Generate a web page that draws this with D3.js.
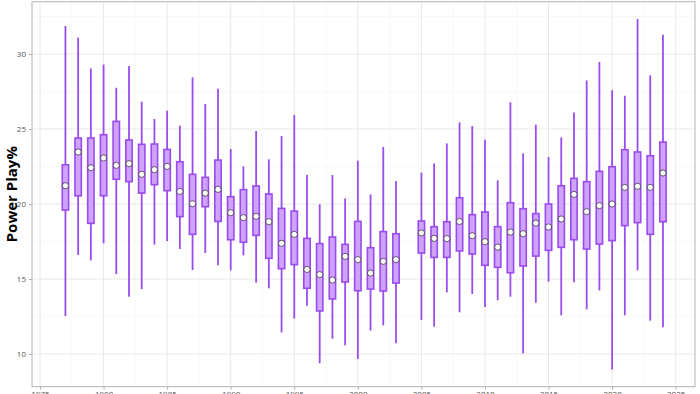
<!DOCTYPE html>
<html>
<head>
<meta charset="utf-8">
<script src="https://cdn.jsdelivr.net/npm/d3@7"></script>
<style>
  body { margin: 0; background: #fff; }
  svg { display: block; }
</style>
</head>
<body>
<svg class="boxchart" width="700" height="394"></svg>
<script>
var years = [1977,1978,1979,1980,1981,1982,1983,1984,1985,1986,1987,1988,1989,1990,1991,1992,1993,1994,1995,1996,1997,1998,1999,2000,2001,2002,2003,
             2005,2006,2007,2008,2009,2010,2011,2012,2013,2014,2015,2016,2017,2018,2019,2020,2021,2022,2023,2024];
var hiVals = [31.87,31.1,29.04,29.3,27.75,29.2,26.82,25.67,26.22,25.22,28.45,26.67,27.69,23.67,22.51,24.87,22.98,24.53,25.93,21.93,19.98,21.93,20.38,22.89,20.64,23.8,21.53,
              22.09,22.71,24.04,25.44,25.2,24.29,21.58,26.78,23.38,25.29,23.13,24.44,26.11,28.24,29.47,27.58,27.22,32.33,28.58,31.29];
var q3Vals = [22.62,24.4,24.4,24.62,25.51,24.27,23.98,24.0,23.64,22.82,21.98,21.78,22.93,20.49,20.96,21.2,20.67,19.71,19.53,17.71,17.36,17.8,17.31,18.84,17.09,18.16,18.02,
              18.87,18.49,18.82,20.42,19.29,19.47,18.49,20.09,19.69,19.36,20.0,21.22,21.71,21.49,22.18,22.49,23.62,23.47,23.22,24.13];
var meanVals = [21.22,23.47,22.42,23.07,22.58,22.69,21.98,22.29,22.51,20.84,20.02,20.73,20.98,19.42,19.09,19.18,18.82,17.38,17.98,15.64,15.29,14.93,16.51,16.29,15.4,16.18,16.29,
                18.07,17.71,17.69,18.84,17.89,17.49,17.13,18.13,18.02,18.73,18.47,19.0,20.64,19.49,19.89,20.0,21.11,21.18,21.11,22.07];
var q1Vals = [19.6,20.55,18.71,20.55,21.65,21.49,20.73,21.29,20.89,19.16,17.98,19.82,18.84,17.62,17.45,17.91,16.38,15.69,15.96,14.38,12.87,13.67,14.8,14.22,14.33,14.2,14.73,
              16.73,16.44,16.44,16.87,16.67,15.91,15.78,15.42,15.87,16.53,16.91,17.11,17.62,17.0,17.33,17.56,18.56,18.76,17.98,18.82];
var loVals = [12.53,16.6,16.24,17.38,15.33,13.82,14.33,17.29,17.53,17.0,15.6,16.73,15.91,15.58,16.58,14.76,14.38,11.44,12.36,13.22,9.38,11.02,10.58,9.67,11.56,11.91,10.71,
              12.27,11.82,14.11,12.78,14.0,13.13,13.58,13.82,10.04,13.42,14.82,12.58,14.78,12.98,14.24,8.96,12.58,15.58,12.22,11.78];
var xTicks = [1975,1980,1985,1990,1995,2000,2005,2010,2015,2020,2025];
var yTicks = [10,15,20,25,30];

var boxData = years.map(function(y, i) {
  return {year: y, lo: loVals[i], q1: q1Vals[i], mean: meanVals[i], q3: q3Vals[i], hi: hiVals[i]};
});

var pLeft = 32, pRight = 695, pTop = 1.7, pBottom = 386.7;
var purple = "#9a4bf0", fillPurple = "#cfa2fb";

var svg = d3.select("svg.boxchart");
var xScale = d3.scaleLinear().domain([1974.37, 2026.52]).range([pLeft, pRight]);
var yScale = d3.scaleLinear().domain([7.82, 33.49]).range([pBottom, pTop]);

// minor grid
var xMinor = [1977.5, 1982.5, 1987.5, 1992.5, 1997.5, 2002.5, 2007.5, 2012.5, 2017.5, 2022.5];
var yMinor = [12.5, 17.5, 22.5, 27.5, 32.5];
svg.append("g").selectAll("line").data(xMinor).enter().append("line")
  .attr("x1", function(d){ return xScale(d); }).attr("x2", function(d){ return xScale(d); })
  .attr("y1", pTop).attr("y2", pBottom)
  .style("stroke", "#f3f3f3").style("stroke-width", 0.6);
svg.append("g").selectAll("line").data(yMinor).enter().append("line")
  .attr("x1", pLeft).attr("x2", pRight)
  .attr("y1", function(d){ return yScale(d); }).attr("y2", function(d){ return yScale(d); })
  .style("stroke", "#f3f3f3").style("stroke-width", 0.6);

// major grid
svg.append("g").selectAll("line").data(xTicks).enter().append("line")
  .attr("x1", function(d){ return xScale(d); }).attr("x2", function(d){ return xScale(d); })
  .attr("y1", pTop).attr("y2", pBottom)
  .style("stroke", "#e8e8e8").style("stroke-width", 1);
svg.append("g").selectAll("line").data(yTicks).enter().append("line")
  .attr("x1", pLeft).attr("x2", pRight)
  .attr("y1", function(d){ return yScale(d); }).attr("y2", function(d){ return yScale(d); })
  .style("stroke", "#e8e8e8").style("stroke-width", 1);

// whiskers
svg.append("g").selectAll("line").data(boxData).enter().append("line")
  .attr("x1", function(d){ return xScale(d.year); }).attr("x2", function(d){ return xScale(d.year); })
  .attr("y1", function(d){ return yScale(d.hi); }).attr("y2", function(d){ return yScale(d.lo); })
  .style("stroke", purple).style("stroke-width", 1.8);

// boxes
var boxW = xScale(0.5) - xScale(0);
svg.append("g").selectAll("rect").data(boxData).enter().append("rect")
  .attr("x", function(d){ return xScale(d.year) - boxW / 2; })
  .attr("width", boxW)
  .attr("y", function(d){ return yScale(d.q3); })
  .attr("height", function(d){ return yScale(d.q1) - yScale(d.q3); })
  .style("fill", fillPurple).style("stroke", purple).style("stroke-width", 1.6);

// means
svg.append("g").selectAll("circle").data(boxData).enter().append("circle")
  .attr("cx", function(d){ return xScale(d.year); })
  .attr("cy", function(d){ return yScale(d.mean); })
  .attr("r", 3.1)
  .style("fill", "#fff").style("stroke", "#222").style("stroke-width", 0.7);

// panel border
svg.append("rect")
  .attr("x", pLeft).attr("y", pTop).attr("width", pRight - pLeft).attr("height", pBottom - pTop)
  .style("fill", "none").style("stroke", "#b3b3b3").style("stroke-width", 1);

// axes
var yAxis = d3.axisLeft(yScale).tickValues(yTicks).tickSize(3).tickPadding(3);
svg.append("g").attr("id", "yAxisG").attr("transform", "translate(" + pLeft + ",0)").call(yAxis);
var xAxis = d3.axisBottom(xScale).tickValues(xTicks).tickFormat(d3.format("d")).tickSize(3).tickPadding(2);
svg.append("g").attr("id", "xAxisG").attr("transform", "translate(0," + pBottom + ")").call(xAxis);

d3.selectAll("path.domain").remove();
d3.selectAll("#yAxisG line, #xAxisG line").style("stroke", "#b3b3b3");
d3.selectAll("#yAxisG text, #xAxisG text")
  .attr("font-family", "'Open Sans', 'DejaVu Sans', sans-serif")
  .attr("font-size", "8px")
  .attr("fill", "#555");

svg.append("text")
  .attr("transform", "translate(17," + ((pTop + pBottom) / 2) + ") rotate(-90)")
  .attr("text-anchor", "middle")
  .attr("font-family", "'Open Sans', 'DejaVu Sans', sans-serif")
  .attr("font-weight", "bold")
  .attr("font-size", "15px")
  .attr("fill", "#000")
  .text("Power Play%");
</script>
</body>
</html>
